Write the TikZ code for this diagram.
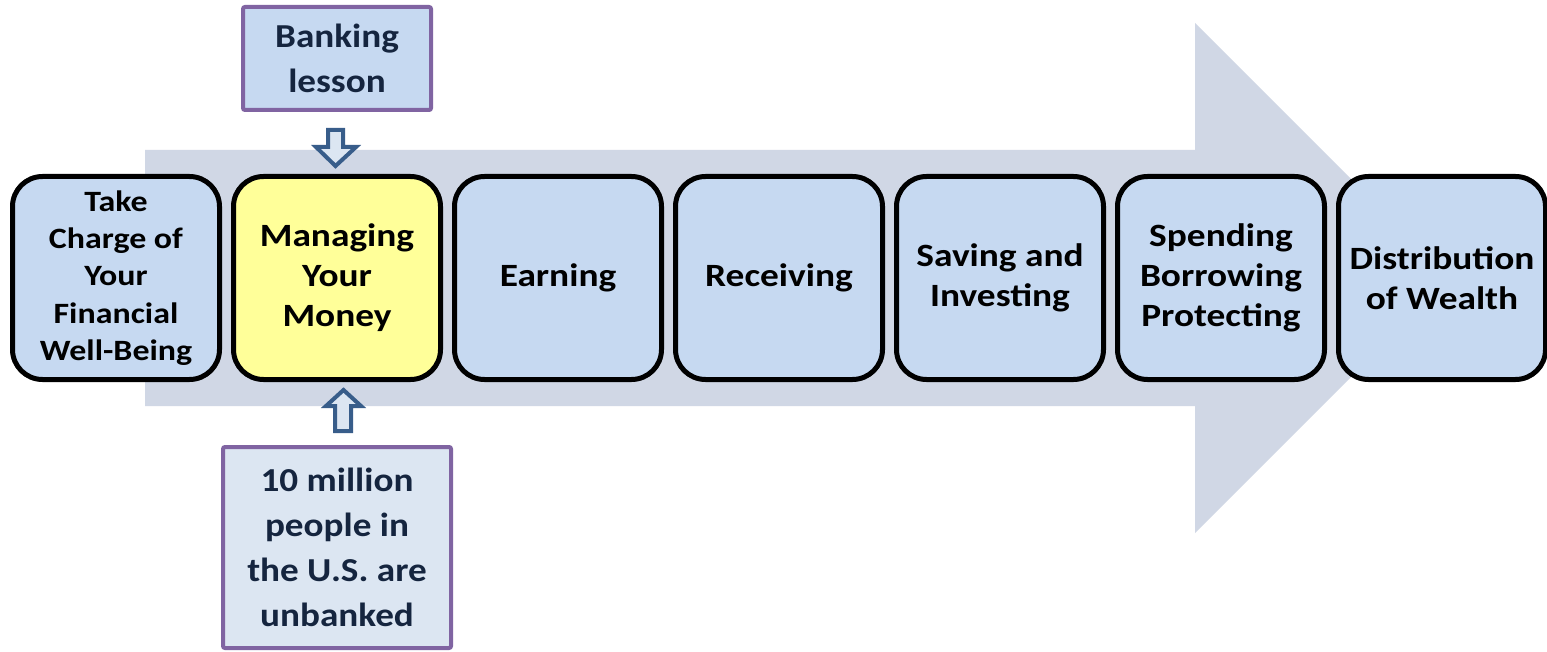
\documentclass[tikz,border=0pt]{standalone}
\usepackage{fontspec}
\setmainfont{Carlito}
\newfontfamily\stagefont[FakeStretch=1.15]{Carlito}
\newfontfamily\callfont[FakeStretch=1.11]{Carlito}
\definecolor{bandbg}{HTML}{D0D7E5}
\definecolor{boxfill}{HTML}{C6D9F1}
\definecolor{hilite}{HTML}{FFFF99}
\definecolor{callborder}{HTML}{8064A2}
\definecolor{callfill}{HTML}{C6D9F1}
\definecolor{callfilllight}{HTML}{DCE6F2}
\definecolor{calltext}{HTML}{15253F}
\definecolor{smallarrow}{HTML}{385D8A}
\tikzset{
  stagebox/.style={draw=black, line width=5pt, fill=boxfill, rounded corners=30pt,
    minimum width=207pt, minimum height=203pt, align=center, inner sep=0pt,
    font=\stagefont\fontsize{32.5}{40}\selectfont\bfseries, text=black},
  callout/.style={draw=callborder, line width=4pt, rounded corners=2pt, align=center,
    inner sep=0pt, font=\callfont\fontsize{33.5}{45}\selectfont\bfseries, text=calltext},
  blockarrow/.style={draw=smallarrow, line width=4pt, fill=callfilllight, line join=miter}
}
\begin{document}
\begin{tikzpicture}[x=1pt,y=-1pt]
\useasboundingbox (0,0) rectangle (1547,652);
\fill[white] (0,0) rectangle (1547,652);
% big background arrow
\fill[bandbg] (145,150) -- (1195,150) -- (1195,23) -- (1450,278) -- (1195,533) -- (1195,406) -- (145,406) -- cycle;
% stage boxes
\node[stagebox, font=\stagefont\fontsize{29.5}{37.3}\selectfont\bfseries] (s1) at (116,278) {Take\\Charge of\\Your\\Financial\\Well-Being};
\node[stagebox, fill=hilite] (s2) at (337,278) {Managing\\Your\\Money};
\node[stagebox] (s3) at (558,278) {Earning};
\node[stagebox] (s4) at (779,278) {Receiving};
\node[stagebox] (s5) at (1000,278) {Saving and\\Investing};
\node[stagebox] (s6) at (1221,278) {Spending\\Borrowing\\Protecting};
\node[stagebox] (s7) at (1442,278) {Distribution\\of Wealth};
% callouts
\node[callout, fill=callfill, minimum width=188pt, minimum height=103pt] (c1) at (337,58.5) {Banking\\lesson};
\node[callout, fill=callfilllight, minimum width=228pt, minimum height=201pt] (c2) at (337,547.5) {10 million\\people in\\the U.S. are\\unbanked};
% small block arrows
\draw[blockarrow] (328,130) -- (343,130) -- (343,147) -- (356,147) -- (335.5,166) -- (316,147) -- (328,147) -- cycle;
\draw[blockarrow] (343.5,390) -- (361,406) -- (351,406) -- (351,431) -- (335,431) -- (335,406) -- (326,406) -- cycle;
\end{tikzpicture}
\end{document}
